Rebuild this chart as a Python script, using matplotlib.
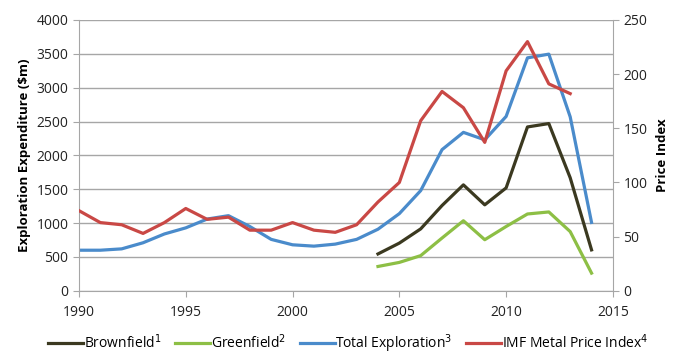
import matplotlib
matplotlib.use("Agg")
import matplotlib.pyplot as plt

plt.rcParams['font.family'] = ['Open Sans', 'DejaVu Sans']

years_total = list(range(1990, 2015))
total = [600, 600, 620, 710, 840, 930, 1060, 1110, 950, 760, 680, 660, 690, 760,
         910, 1140, 1480, 2085, 2340, 2230, 2575, 3440, 3495, 2570, 1010]
years_split = list(range(2004, 2015))
brownfield = [545, 705, 915, 1260, 1565, 1270, 1520, 2420, 2470, 1670, 605]
greenfield = [360, 420, 520, 780, 1035, 755, 950, 1135, 1165, 875, 262]
years_price = list(range(1990, 2014))
price = [74, 63, 61, 53, 63, 76, 66, 68, 56, 56, 63, 56, 54, 61,
         82, 100, 157, 184, 169, 137, 203, 230, 191, 182]

c_brown = '#3b3920'
c_green = '#8dbf45'
c_blue = '#4a8bcb'
c_red = '#c94845'
grey = '#a6a6a6'

fig = plt.figure(figsize=(6.75, 3.56), dpi=100)
ax = fig.add_axes([0.117, 0.183, 0.791, 0.761])
ax2 = ax.twinx()

lw = 2.3
l1, = ax.plot(years_split, brownfield, color=c_brown, lw=lw, label='Brownfield$^1$')
l2, = ax.plot(years_split, greenfield, color=c_green, lw=lw, label='Greenfield$^2$')
l3, = ax.plot(years_total, total, color=c_blue, lw=lw, label='Total Exploration$^3$')
l4, = ax2.plot(years_price, price, color=c_red, lw=lw, label='IMF Metal Price Index$^4$')

ax.set_xlim(1990, 2015)
ax.set_ylim(0, 4000)
ax2.set_ylim(0, 250)
ax.set_xticks(range(1990, 2016, 5))
ax.set_yticks(range(0, 4001, 500))
ax2.set_yticks(range(0, 251, 50))

ax.yaxis.grid(True, color=grey, lw=1)
ax.set_axisbelow(True)
for a in (ax, ax2):
    for s in a.spines.values():
        s.set_visible(False)
    a.tick_params(colors='#222222', labelsize=10, length=4, color=grey)
ax.spines['left'].set_visible(True)
ax.spines['left'].set_color(grey)
ax.spines['bottom'].set_visible(True)
ax.spines['bottom'].set_color(grey)
ax2.spines['right'].set_visible(True)
ax2.spines['right'].set_color(grey)
ax.tick_params(axis='x', pad=6)

ax.set_ylabel('Exploration Expenditure (\\$m)', fontsize=9.5, fontweight='bold', labelpad=4)
ax2.set_ylabel('Price Index', fontsize=9.5, fontweight='bold', labelpad=6)

fig.legend(handles=[l1, l2, l3, l4], loc='center', bbox_to_anchor=(0.516, 0.035),
           ncol=4, frameon=False, fontsize=10, handlelength=2.5, columnspacing=1.0,
           handletextpad=0.05)

fig.savefig('out.png', dpi=100)
